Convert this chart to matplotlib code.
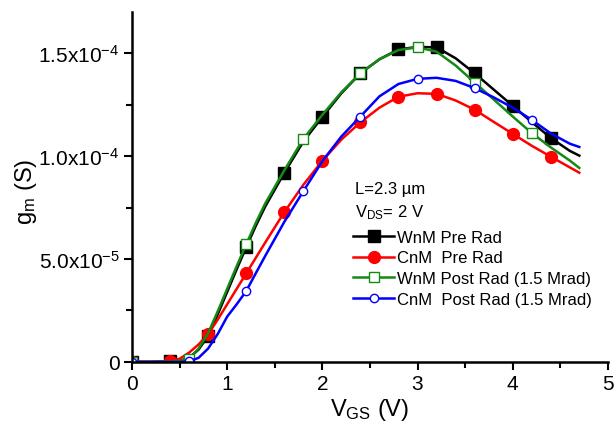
import numpy as np
import matplotlib.pyplot as plt
from matplotlib.ticker import FixedLocator, MultipleLocator

plt.rcParams['font.family'] = ['Liberation Sans', 'DejaVu Sans']
plt.rcParams['mathtext.fontset'] = 'custom'
plt.rcParams['mathtext.rm'] = 'Liberation Sans'
plt.rcParams['mathtext.it'] = 'Liberation Sans'

# V_GS grid (V), finer where the curves turn on; curves end at 4.7 V
vgs = [0.0, 0.2, 0.4, 0.5, 0.6, 0.7, 0.8, 0.9, 1.0, 1.1, 1.2, 1.3, 1.4, 1.6, 1.8,
       2.0, 2.2, 2.4, 2.6, 2.8, 3.0, 3.2, 3.4, 3.6, 3.8, 4.0, 4.2, 4.4, 4.6, 4.7]

# g_m in units of 1e-5 S
wnm_pre = [0.0, 0.0, 0.02, 0.05, 0.2, 0.6, 1.26, 2.3, 3.4, 4.5, 5.57, 6.6, 7.55, 9.18, 10.7,
           11.9, 13.05, 14.02, 14.7, 15.18, 15.3, 15.28, 14.75, 14.02, 13.23, 12.44, 11.65,
           10.88, 10.25, 10.02]
cnm_pre = [0.0, 0.0, 0.05, 0.15, 0.45, 0.85, 1.35, 2.05, 2.8, 3.55, 4.3, 5.05, 5.8, 7.27, 8.6,
           9.77, 10.8, 11.64, 12.35, 12.88, 13.05, 13.02, 12.7, 12.25, 11.66, 11.08, 10.5,
           9.97, 9.45, 9.19]
wnm_post = [0.0, 0.0, 0.02, 0.05, 0.15, 0.65, 1.4, 2.45, 3.55, 4.65, 5.71, 6.75, 7.7, 9.3, 10.83,
            12.0, 13.1, 14.02, 14.7, 15.15, 15.28, 15.07, 14.4, 13.57, 12.75, 11.92, 11.12,
            10.42, 9.78, 9.42]
cnm_post = [0.0, 0.0, 0.0, 0.0, 0.02, 0.2, 0.65, 1.35, 2.2, 2.8, 3.44, 4.3, 5.15, 6.8, 8.29,
            9.75, 10.95, 11.92, 12.9, 13.5, 13.75, 13.8, 13.65, 13.3, 12.85, 12.35, 11.76,
            11.1, 10.6, 10.44]

# where the symbols sit
marks_04 = [0.0, 0.4, 0.8, 1.2, 1.6, 2.0, 2.4, 2.8, 3.2, 3.6, 4.0, 4.4]
marks_06 = [0.0, 0.6, 1.2, 1.8, 2.4, 3.0, 3.6, 4.2]

series = [
    ('WnM Pre Rad', wnm_pre, 'black', 's', 'black', 8, marks_04),
    ('CnM  Pre Rad', cnm_pre, 'red', 'o', 'red', 8.5, marks_04),
    ('WnM Post Rad (1.5 Mrad)', wnm_post, '#138a13', 's', 'white', 6.5, marks_06),
    ('CnM  Post Rad (1.5 Mrad)', cnm_post, 'blue', 'o', 'white', 6, marks_06),
]

fig = plt.figure(figsize=(6.14, 4.31), dpi=100)
ax = fig.add_axes([0.215, 0.158, 0.775, 0.812])

x = np.array(vgs)
for label, vals, col, mk, mfc, ms, mx in series:
    idx = [int(np.argmin(np.abs(x - m))) for m in mx]
    ax.plot(x, np.array(vals) * 1e-5, color=col, lw=1.8, marker=mk, ms=ms,
            mfc=mfc, mec=col, mew=1.0, markevery=idx, label=label)

ax.set_xlim(0, 5)
ax.set_ylim(0, 1.7e-4)
ax.spines['top'].set_visible(False)
ax.spines['right'].set_visible(False)
for s in ['left', 'bottom']:
    ax.spines[s].set_linewidth(1.8)

ax.xaxis.set_major_locator(MultipleLocator(1))
ax.xaxis.set_minor_locator(MultipleLocator(0.5))
ax.yaxis.set_major_locator(FixedLocator([0, 5e-5, 1e-4, 1.5e-4]))
ax.yaxis.set_minor_locator(FixedLocator([2.5e-5, 7.5e-5, 1.25e-4]))
ax.set_yticklabels(['0', r'5.0x10$^{-5}$', r'1.0x10$^{-4}$', r'1.5x10$^{-4}$'])
ax.tick_params(which='major', direction='out', length=6, width=1.5, labelsize=15, pad=3)
ax.tick_params(which='minor', direction='out', length=4, width=1.5)

ax.set_xlabel(r'V$_{\mathrm{GS}}$ (V)', fontsize=17, labelpad=2)
ax.set_ylabel(r'g$_{\mathrm{m}}$ (S)', fontsize=17)
ax.yaxis.set_label_coords(-0.195, 0.49)

ax.text(2.34, 8.42e-5, 'L=2.3 µm', fontsize=12, va='center')
ax.text(2.34, 7.3e-5, r'V$_{\mathrm{DS}}$= 2 V', fontsize=12, va='center')

leg = ax.legend(loc='upper left', bbox_to_anchor=(0.464, 0.378), frameon=False,
                fontsize=12, handlelength=2.5, handletextpad=0.15,
                labelspacing=0.35, borderpad=0, borderaxespad=0)

fig.savefig('out.png', dpi=100)
